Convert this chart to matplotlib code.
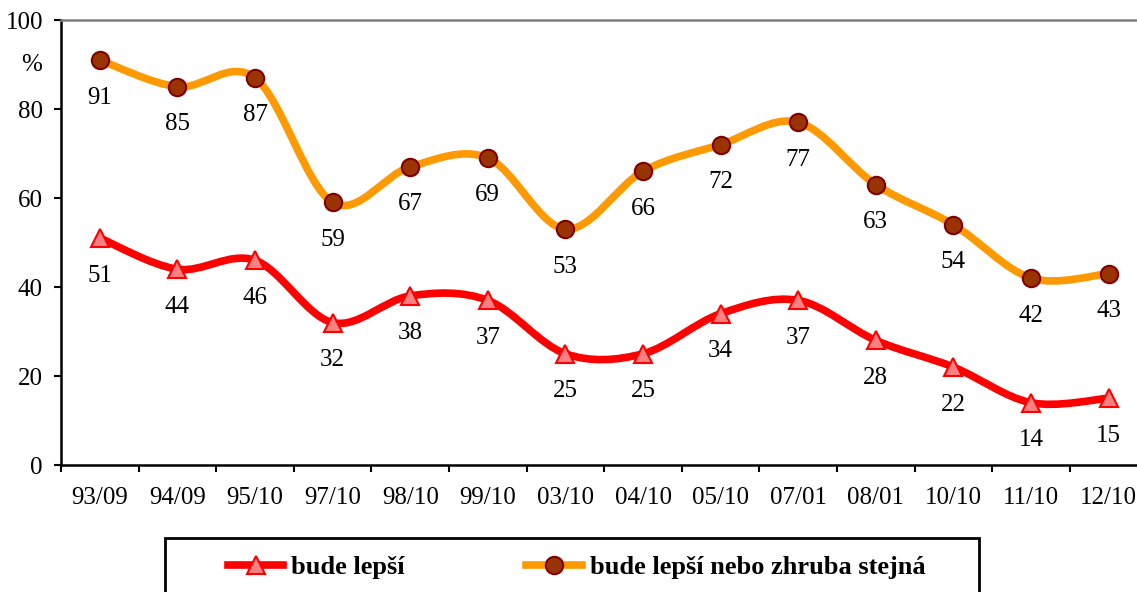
import numpy as np
import matplotlib
matplotlib.use("Agg")
import matplotlib.pyplot as plt
from matplotlib.path import Path
from matplotlib.patches import PathPatch, Rectangle
from matplotlib.lines import Line2D

plt.rcParams['font.family'] = ['Liberation Serif', 'DejaVu Serif']

categories = ["93/09", "94/09", "95/10", "97/10", "98/10", "99/10", "03/10",
              "04/10", "05/10", "07/01", "08/01", "10/10", "11/10", "12/10"]
better = [51, 44, 46, 32, 38, 37, 25, 25, 34, 37, 28, 22, 14, 15]
better_or_same = [91, 85, 87, 59, 67, 69, 53, 66, 72, 77, 63, 54, 42, 43]
label_better = "bude lepší"
label_same = "bude lepší nebo zhruba stejná"


def smooth_path(xs, ys):
    # Excel-style smoothing: cubic bezier through the points (Catmull-Rom)
    pts = np.column_stack([xs, ys]).astype(float)
    n = len(pts)
    verts = [pts[0]]
    codes = [Path.MOVETO]
    for i in range(n - 1):
        p0 = pts[i - 1] if i > 0 else pts[i]
        p1 = pts[i]
        p2 = pts[i + 1]
        p3 = pts[i + 2] if i + 2 < n else pts[i + 1]
        c1 = p1 + (p2 - p0) / 6.0
        c2 = p2 - (p3 - p1) / 6.0
        verts += [c1, c2, p2]
        codes += [Path.CURVE4] * 3
    return Path(verts, codes)


fig = plt.figure(figsize=(11.37, 5.92), dpi=100)
ax = fig.add_axes([61 / 1137, 1 - 465 / 592, 1086.4 / 1137, 445 / 592])

x = np.arange(len(categories))

red = "#FF0000"
orange = "#FF9900"
fs = 18

ax.add_patch(PathPatch(smooth_path(x, better_or_same), facecolor="none",
                       edgecolor=orange, lw=5.5, capstyle="round", zorder=2))
ax.add_patch(PathPatch(smooth_path(x, better), facecolor="none",
                       edgecolor=red, lw=5.5, capstyle="round", zorder=2))
ax.plot(x, better_or_same, ls="none", marker="o", ms=12.5, mfc="#993300",
        mec="#800000", mew=1.5, zorder=3)
ax.plot(x, better, ls="none", marker="^", ms=13, mfc="#FF8080",
        mec=red, mew=1.5, zorder=3)

for xi, v in zip(x, better_or_same):
    ax.annotate(str(v), (xi, v), xytext=(0, -27), textcoords="offset points",
                ha="center", va="center", fontsize=fs)
for xi, v in zip(x, better):
    ax.annotate(str(v), (xi, v), xytext=(0, -27), textcoords="offset points",
                ha="center", va="center", fontsize=fs)

ax.set_xlim(-0.5, len(categories) - 0.5)
ax.set_ylim(0, 100)
ax.set_yticks(range(0, 101, 20))
ax.set_xticks(np.arange(-0.5, len(categories), 1.0))
ax.set_xticklabels([])
ax.set_xticks(x, minor=True)
ax.set_xticklabels(categories, minor=True)
ax.tick_params(axis="x", which="major", direction="out", length=5, width=1.5)
ax.tick_params(axis="x", which="minor", length=0, pad=16, labelsize=fs)
ax.tick_params(axis="y", direction="out", length=5, width=1.5, pad=8, labelsize=fs)

for s in ["left", "bottom"]:
    ax.spines[s].set_linewidth(1.8)
    ax.spines[s].set_color("black")
ax.spines["top"].set_color("#808080")
ax.spines["top"].set_linewidth(1.8)
ax.spines["right"].set_visible(False)

ax.annotate("%", xy=(0, 90), xycoords=("axes fraction", "data"), xytext=(-21, 0),
            textcoords="offset points", ha="center", va="center", fontsize=fs,
            annotation_clip=False)

# legend box
fig.add_artist(Rectangle((165 / 1137, -0.1), 814 / 1137, 0.1 + 1 - 538 / 592,
                         transform=fig.transFigure, fill=False, lw=2,
                         edgecolor="black"))
handles = [
    Line2D([], [], color=red, lw=5.5, marker="^", ms=13, mfc="#FF8080",
           mec=red, mew=1.5),
    Line2D([], [], color=orange, lw=5.5, marker="o", ms=12.5, mfc="#993300",
           mec="#800000", mew=1.5),
]
fig.legend(handles, [label_better, label_same], ncol=2, frameon=False,
           loc="center left", bbox_to_anchor=(228 / 1137, 1 - 567 / 592),
           borderpad=0, borderaxespad=0, handlelength=2.1, handletextpad=0.3,
           columnspacing=4.6, prop={"weight": "bold", "size": 19})

fig.savefig("out.png", dpi=100)
